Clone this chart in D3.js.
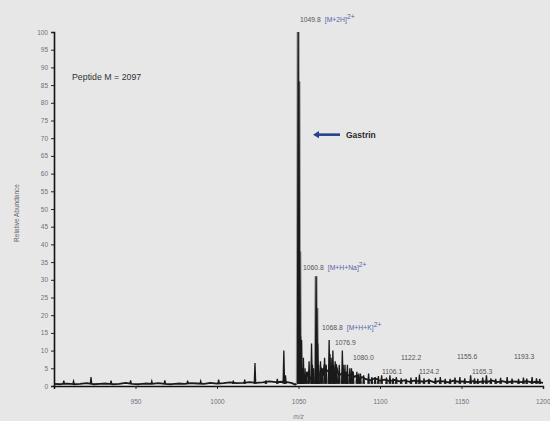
<!DOCTYPE html>
<html>
<head>
<meta charset="utf-8">
<script src="https://cdn.jsdelivr.net/npm/d3@7"></script>
<style>
  body { margin: 0; background: #e7e7e8; }
  svg { display: block; font-family: 'Liberation Sans', Arial, sans-serif; }
  .tick text { fill: #6e7080; font-size: 6.5px; }
  .num { fill: #555; font-size: 6.8px; }
  .ion { fill: #5a62a8; font-size: 6.8px; }
</style>
</head>
<body>
<div id="chart"></div>
<script>
'use strict';

// data ---------------------------------------------------------------
let xTicks = [950, 1000, 1050, 1100, 1150, 1200];
let yTicks = [0, 5, 10, 15, 20, 25, 30, 35, 40, 45, 50, 55, 60, 65, 70, 75, 80, 85, 90, 95, 100];

// baseline noise (m/z, relative abundance)
let noiseMz = [900, 904, 908, 912, 916, 920, 924, 928, 932, 936, 940, 944, 948, 952, 956, 960, 964, 968, 972, 976,
  980, 984, 988, 992, 996, 1000, 1004, 1008, 1012, 1016, 1020, 1024, 1028, 1032, 1036, 1040, 1044,
  1046, 1048, 1052.5, 1053.5, 1055, 1056, 1057, 1059, 1060, 1063, 1064, 1065, 1066, 1067, 1070, 1072, 1073, 1074,
  1075, 1078, 1079, 1082, 1083, 1084, 1086, 1087, 1089, 1091,
  1094, 1097, 1100, 1103, 1106, 1109, 1112, 1115, 1118, 1121, 1124, 1127, 1130, 1133, 1136, 1139, 1142, 1145,
  1148, 1151, 1154, 1157, 1160, 1163, 1166, 1169, 1172, 1175, 1178, 1181, 1184, 1187, 1190, 1193, 1196, 1200];
let noiseInt = [0.6, 0.5, 0.7, 0.5, 0.6, 0.8, 0.5, 0.6, 0.7, 0.5, 0.6, 0.9, 0.6, 0.5, 0.7, 0.6, 0.8, 0.6, 0.5, 0.7,
  0.6, 0.8, 0.7, 0.6, 0.9, 0.7, 0.8, 1.0, 0.8, 0.9, 1.1, 0.9, 1.0, 1.3, 1.1, 1.2, 1.0,
  0.8, 0.4, 2.0, 3.0, 2.5, 4.0, 2.0, 3.0, 2.0, 3.0, 5.0, 3.0, 6.0, 4.0, 5.0, 3.0, 6.0, 4.0,
  3.0, 4.0, 3.0, 3.0, 4.0, 2.5, 3.0, 2.0, 2.5, 2.0,
  1.6, 2.2, 1.5, 1.8, 1.4, 1.7, 1.3, 1.6, 1.2, 1.5, 1.4, 1.2, 1.6, 1.1, 1.4, 1.3, 1.0, 1.5,
  1.2, 1.3, 1.1, 1.4, 1.0, 1.3, 1.2, 1.5, 1.1, 1.4, 1.0, 1.3, 1.2, 1.1, 1.4, 1.0, 1.2, 0.9];

// peaks (m/z, relative abundance)
let peakMz = [906, 912, 922.7, 935, 947, 960, 968, 982, 990, 1001, 1010, 1017, 1023.3, 1030, 1037, 1041.0, 1042.0,
  1049.8, 1050.3, 1050.8, 1051.3, 1051.9, 1052.5, 1053, 1054, 1055, 1056.5, 1058.0, 1058.5, 1059.3,
  1060.8, 1061.3, 1061.8, 1062.3, 1063.5, 1064.5, 1066, 1067,
  1068.8, 1069.3, 1070, 1071.1, 1071.6, 1072.5, 1073.5, 1075, 1076.9, 1077.4, 1078.5, 1079.5,
  1080.0, 1081.5, 1082.5, 1083.5, 1085.8, 1087, 1088, 1090,
  1093, 1095, 1097, 1099, 1101, 1104, 1106.1, 1108, 1110, 1113, 1116, 1119, 1122.2, 1124.2, 1127, 1130, 1134,
  1137, 1140, 1143, 1146, 1149, 1152, 1155.6, 1158, 1160, 1163, 1165.3, 1168,
  1171, 1174, 1178, 1181, 1185, 1188, 1190, 1193.3, 1196, 1198];
let peakInt = [1.5, 1.4, 2.5, 1.5, 1.6, 1.4, 1.6, 1.5, 1.4, 1.8, 1.5, 1.8, 6.5, 1.6, 2.0, 10, 3,
  100, 86, 38, 14, 13, 5, 8, 5, 4, 7, 12, 6, 5,
  31, 22, 12, 6, 7, 5, 8, 6,
  13, 9, 8, 10, 6, 7, 5, 6, 10, 6, 6, 4,
  6, 5, 5, 4, 4, 3.5, 3.5, 3,
  3.5, 2.5, 2.5, 2.8, 3, 2.4, 3, 2.2, 2.5, 2.2, 2, 2.4, 2.5, 3.2, 2.2, 2, 2.3,
  2.5, 2, 2, 2.4, 2.5, 2.2, 3, 2.2, 2, 2.4, 3, 2.2,
  2, 2.3, 2.5, 2.1, 2, 2.4, 2.1, 2.5, 2.2, 2];

// annotations: m/z label, ion text, row position (relative abundance)
let labelMz = [1049.8, 1060.8, 1068.8, 1076.9, 1080.0, 1122.2, 1155.6, 1193.3, 1106.1, 1124.2, 1165.3];
let labelIon = ['[M+2H]', '[M+H+Na]', '[M+H+K]', '', '', '', '', '', '', '', ''];
let labelAt = [102.8, 32.8, 15.8, 11.6, 7.4, 7.4, 7.6, 7.6, 3.4, 3.4, 3.4];

// layout ---------------------------------------------------------------
let width = 550;
let height = 421;

// left edge of each annotation, in pixels
let labelX = [300, 303, 322, 335, 353, 401, 457, 514, 382, 419, 472];

let svg = d3.select('#chart').append('svg')
  .attr('width', width)
  .attr('height', height);

let xScale = d3.scaleLinear().domain([900, 1200]).range([54, 543]);
let yScale = d3.scaleLinear().domain([0, 100]).range([386, 32]);

// axes
let yAxis = d3.axisLeft(yScale).tickValues(yTicks).tickSize(3).tickPadding(3);
let yG = svg.append('g').attr('transform', `translate(${xScale(900)},0)`).call(yAxis);
yG.select('.domain').attr('stroke', '#111').attr('stroke-width', 1.6);
yG.selectAll('.tick line').attr('stroke', '#222');

let xAxis = d3.axisBottom(xScale).tickValues(xTicks).tickFormat(d3.format('d')).tickSize(3).tickPadding(10);
let xG = svg.append('g').attr('transform', `translate(0,${yScale(0)})`).call(xAxis);
xG.select('.domain').attr('stroke', '#111').attr('stroke-width', 1.4);
xG.selectAll('.tick line').attr('stroke', '#222');
// the last label sits on the right edge of the figure
xG.selectAll('.tick text').filter(d => d === 1200).attr('text-anchor', 'end').attr('dx', 7);

// axis titles
svg.append('text')
  .attr('transform', `translate(19,${(yScale(0) + yScale(100)) / 2 + 4})rotate(-90)`)
  .attr('text-anchor', 'middle')
  .attr('fill', '#666')
  .attr('font-size', 6.5)
  .text('Relative Abundance');

svg.append('text')
  .attr('x', xScale(1050))
  .attr('y', 419)
  .attr('text-anchor', 'middle')
  .attr('fill', '#777')
  .attr('font-size', 6.5)
  .attr('font-style', 'italic')
  .text('m/z');

// spectrum -------------------------------------------------------------
let spec = svg.append('g');

let noise = noiseMz.map((m, i) => [m, noiseInt[i]]);
spec.append('path')
  .attr('d', d3.line().x(d => xScale(d[0])).y(d => yScale(d[1]))(noise))
  .attr('fill', 'none')
  .attr('stroke', '#1a1a1a')
  .attr('stroke-width', 1.8)
  .attr('stroke-linejoin', 'round');

let peaks = peakMz.map((m, i) => [m, peakInt[i]]);
let spike = d => `M${xScale(d[0] - 0.45)},${yScale(0.6)}L${xScale(d[0])},${yScale(d[1])}L${xScale(d[0] + 0.45)},${yScale(0.6)}`;

// soft grey halo round the tall peaks, as in the scanned figure
spec.selectAll('path.halo')
  .data(peaks.filter(d => d[1] > 20))
  .enter()
  .append('path')
  .attr('class', 'halo')
  .attr('d', spike)
  .attr('fill', 'none')
  .attr('stroke', '#9a9a9a')
  .attr('stroke-width', 3.2);

spec.selectAll('path.peak')
  .data(peaks)
  .enter()
  .append('path')
  .attr('class', 'peak')
  .attr('d', spike)
  .attr('fill', 'none')
  .attr('stroke', '#1a1a1a')
  .attr('stroke-width', 1.3)
  .attr('stroke-linejoin', 'miter');

// annotations ------------------------------------------------------------
let ann = svg.selectAll('g.ann')
  .data(labelMz.map((m, i) => ({ mz: m, ion: labelIon[i], at: labelAt[i], x: labelX[i] })))
  .enter()
  .append('g')
  .attr('class', 'ann')
  .attr('transform', d => `translate(${d.x},${yScale(d.at)})`);

let t = ann.append('text');
t.append('tspan').attr('class', 'num').text(d => d.mz.toFixed(1));
t.filter(d => d.ion !== '').append('tspan').attr('class', 'ion').attr('dx', 4).text(d => d.ion);
t.filter(d => d.ion !== '').append('tspan').attr('class', 'ion')
  .attr('font-size', 4.5).attr('dy', -3).text('2+');

svg.append('text')
  .attr('x', 72)
  .attr('y', 80)
  .attr('fill', '#333')
  .attr('font-size', 8.8)
  .text('Peptide M = 2097');

// arrow pointing at the main peak
let arrowY = yScale(71);
svg.append('line')
  .attr('x1', 318).attr('y1', arrowY)
  .attr('x2', 340).attr('y2', arrowY)
  .attr('stroke', '#23448a')
  .attr('stroke-width', 2.6);
svg.append('path')
  .attr('d', `M313,${arrowY}l6,-3.6v7.2z`)
  .attr('fill', '#23448a');
svg.append('text')
  .attr('x', 346)
  .attr('y', arrowY + 3.2)
  .attr('fill', '#2a2a2a')
  .attr('font-size', 8.5)
  .attr('font-weight', 'bold')
  .text('Gastrin');
</script>
</body>
</html>
